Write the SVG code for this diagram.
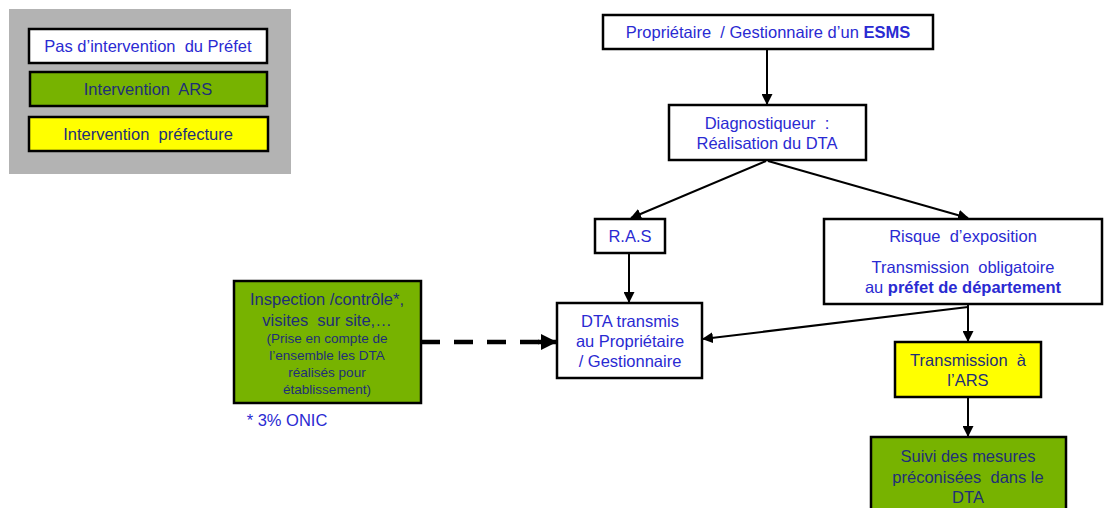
<svg xmlns="http://www.w3.org/2000/svg" width="1105" height="508" viewBox="0 0 1105 508">
<defs>
<style>
.box{stroke:#000;stroke-width:2.5}
.w{fill:#fff}
.g{fill:#77b300}
.y{fill:#ffff00}
text{font-family:"Liberation Sans",Arial,sans-serif;font-size:16.5px;text-anchor:middle;white-space:pre}
.b{fill:#2a2ad2}
.d{fill:#1f2f78}
.sm{font-size:13.5px}
.con{stroke:#000;stroke-width:2;fill:none}
</style>
<marker id="ah" markerWidth="11" markerHeight="11" refX="10" refY="5.5" orient="auto" markerUnits="userSpaceOnUse">
<path d="M0,0 L11,5.5 L0,11 z" fill="#000"/>
</marker>
<marker id="ah2" markerWidth="16" markerHeight="16" refX="15" refY="8" orient="auto" markerUnits="userSpaceOnUse">
<path d="M0,0 L16,8 L0,16 z" fill="#000"/>
</marker>
</defs>
<rect width="1105" height="508" fill="#fff"/>
<g id="legend">
<rect x="9" y="9" width="282" height="165" fill="#b3b3b3"/>
<rect class="box w" x="29" y="29" width="238" height="34"/>
<text class="b" x="148" y="52">Pas d’intervention  du Préfet</text>
<rect class="box g" x="30" y="72" width="237" height="34"/>
<text class="d" x="148" y="95">Intervention  ARS</text>
<rect class="box y" x="29" y="117" width="239" height="34"/>
<text class="d" x="148" y="140">Intervention  préfecture</text>
</g>
<g id="connectors">
<line class="con" x1="767" y1="49" x2="767" y2="104" marker-end="url(#ah)"/>
<line class="con" x1="766" y1="161" x2="631" y2="218" marker-end="url(#ah)"/>
<line class="con" x1="768" y1="161" x2="968" y2="218" marker-end="url(#ah)"/>
<line class="con" x1="629" y1="253" x2="629" y2="302" marker-end="url(#ah)"/>
<line class="con" x1="968" y1="307" x2="703" y2="339" marker-end="url(#ah)"/>
<line class="con" x1="968" y1="304" x2="968" y2="341" marker-end="url(#ah)"/>
<line class="con" x1="968" y1="397" x2="968" y2="436" marker-end="url(#ah)"/>
<line x1="421" y1="342" x2="542" y2="342" stroke="#000" stroke-width="4.5" stroke-dasharray="19,14"/>
<line x1="538" y1="342" x2="556" y2="342" stroke="#000" stroke-width="4.5" marker-end="url(#ah2)"/>
</g>
<g id="n-proprietaire">
<rect class="box w" x="603" y="15" width="330" height="34"/>
<text class="b" x="768" y="38">Propriétaire  / Gestionnaire d’un <tspan font-weight="bold">ESMS</tspan></text>
</g>
<g id="n-diagnostiqueur">
<rect class="box w" x="669" y="105" width="197" height="55"/>
<text class="b" x="767" y="129">Diagnostiqueur  :</text>
<text class="b" x="767" y="149">Réalisation du DTA</text>
</g>
<g id="n-ras">
<rect class="box w" x="595" y="219" width="70" height="34"/>
<text class="b" x="630" y="242">R.A.S</text>
</g>
<g id="n-risque">
<rect class="box w" x="824" y="219" width="278" height="85"/>
<text class="b" x="963" y="242">Risque  d’exposition</text>
<text class="b" x="963" y="273">Transmission  obligatoire</text>
<text class="b" x="963" y="293">au <tspan font-weight="bold">préfet de département</tspan></text>
</g>
<g id="n-dta">
<rect class="box w" x="557" y="303" width="145" height="75"/>
<text class="b" x="630" y="327">DTA transmis</text>
<text class="b" x="630" y="347">au Propriétaire</text>
<text class="b" x="630" y="367">/ Gestionnaire</text>
</g>
<g id="n-inspection">
<rect class="box g" x="234" y="281" width="187" height="122"/>
<text class="d" x="327" y="305">Inspection /contrôle*,</text>
<text class="d" x="327" y="326">visites  sur site,…</text>
<text class="d sm" x="327" y="343">(Prise en compte de</text>
<text class="d sm" x="327" y="360">l’ensemble les DTA</text>
<text class="d sm" x="327" y="377">réalisés pour</text>
<text class="d sm" x="327" y="394">établissement)</text>
</g>
<text class="b" x="287" y="426">* 3% ONIC</text>
<g id="n-transmission-ars">
<rect class="box y" x="895" y="342" width="146" height="55"/>
<text class="d" x="968" y="366">Transmission  à</text>
<text class="d" x="968" y="386">l’ARS</text>
</g>
<g id="n-suivi">
<rect class="box g" x="871" y="437" width="195" height="80"/>
<text class="d" x="968" y="462">Suivi des mesures</text>
<text class="d" x="968" y="483">préconisées  dans le</text>
<text class="d" x="968" y="503">DTA</text>
</g>
</svg>
